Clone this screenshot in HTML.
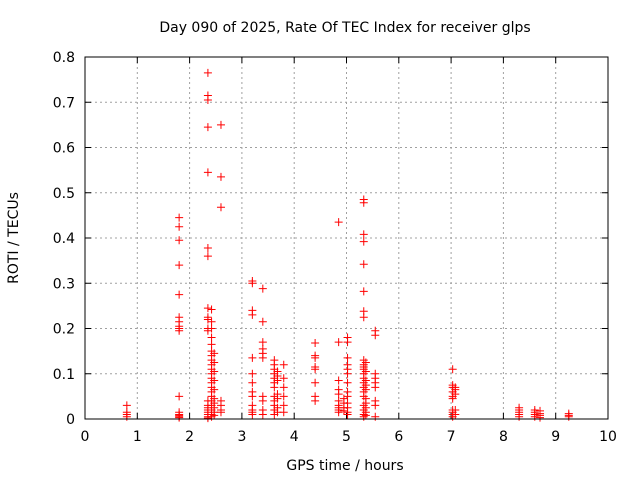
<!DOCTYPE html>
<html><head><meta charset="utf-8"><style>
body{margin:0;background:#fff;}
svg{display:block;font-family:"DejaVu Sans","Liberation Sans",sans-serif;}
</style></head><body>
<svg id="chart" width="640" height="480">
<rect width="640" height="480" fill="#fff"/>
<text x="345" y="32" text-anchor="middle" font-size="14">Day 090 of 2025, Rate Of TEC Index for receiver glps</text>
<text x="345" y="470" text-anchor="middle" font-size="14">GPS time / hours</text>
<text transform="translate(18,238) rotate(-90)" text-anchor="middle" font-size="14">ROTI / TECUs</text>
<g id="grid"></g><g id="ticks"></g><g id="marks"></g>
<rect x="85" y="57" width="523" height="362" fill="none" stroke="#000" stroke-width="1"/>
</svg>
<script>
const xTicks=[0,1,2,3,4,5,6,7,8,9,10];
const yTicks=[0,0.1,0.2,0.3,0.4,0.5,0.6,0.7,0.8];
const yTickLabels=["0","0.1","0.2","0.3","0.4","0.5","0.6","0.7","0.8"];
const clusterHours=[0.8,1.8,2.35,2.42,2.47,2.6,3.2,3.4,3.62,3.68,3.8,4.4,4.85,4.95,5.02,5.33,5.37,5.55,7.03,7.08,8.3,8.6,8.7,9.25];
const clusterValues=[
[0.03,0.015,0.01,0.005],
[0.445,0.425,0.395,0.34,0.275,0.225,0.215,0.205,0.2,0.195,0.05,0.015,0.01,0.008,0.005,0.003],
[0.765,0.715,0.705,0.645,0.545,0.378,0.36,0.245,0.225,0.22,0.2,0.195,0.04,0.03,0.025,0.02,0.015,0.01,0.005,0.002],
[0.242,0.215,0.2,0.18,0.165,0.15,0.14,0.13,0.12,0.11,0.1,0.09,0.08,0.07,0.06,0.05,0.04,0.03,0.02,0.01,0.005],
[0.145,0.125,0.105,0.085,0.065,0.045,0.035,0.025,0.015,0.008],
[0.65,0.535,0.468,0.04,0.03,0.02,0.015],
[0.305,0.3,0.24,0.23,0.135,0.1,0.08,0.06,0.05,0.03,0.02,0.015,0.01],
[0.288,0.215,0.17,0.155,0.145,0.135,0.05,0.04,0.02,0.01],
[0.13,0.12,0.11,0.1,0.09,0.08,0.07,0.05,0.04,0.03,0.02,0.01],
[0.105,0.095,0.085,0.055,0.045,0.025,0.015],
[0.12,0.09,0.07,0.05,0.03,0.015],
[0.168,0.14,0.135,0.115,0.11,0.08,0.05,0.04],
[0.435,0.17,0.085,0.065,0.055,0.04,0.03,0.025,0.02,0.015],
[0.045,0.035,0.025,0.018],
[0.18,0.17,0.135,0.12,0.11,0.1,0.08,0.06,0.05,0.035,0.025,0.015,0.01],
[0.485,0.478,0.408,0.392,0.342,0.282,0.238,0.225,0.13,0.12,0.115,0.11,0.1,0.09,0.08,0.07,0.06,0.05,0.03,0.02,0.01,0.005],
[0.125,0.105,0.085,0.075,0.065,0.045,0.035,0.025,0.015,0.008],
[0.195,0.185,0.1,0.09,0.08,0.07,0.04,0.03,0.005],
[0.11,0.075,0.07,0.06,0.05,0.045,0.02,0.015,0.01,0.005],
[0.07,0.065,0.055,0.02,0.01],
[0.025,0.02,0.015,0.01,0.005],
[0.02,0.015,0.01,0.005],
[0.018,0.012,0.008,0.003],
[0.012,0.008,0.005]
];
const X0=85,X1=608,Y0=419,Y1=57;
function xs(h){return X0+(h-0)/(10-0)*(X1-X0);}
function ys(v){return Y0-(v-0)/(0.8-0)*(Y0-Y1);}
const NS="http://www.w3.org/2000/svg";
const grid=document.getElementById('grid'),ticks=document.getElementById('ticks'),marks=document.getElementById('marks');
function mk(tag,attrs,parent){const e=document.createElementNS(NS,tag);for(const k in attrs)e.setAttribute(k,attrs[k]);parent.appendChild(e);return e;}
xTicks.forEach((t,i)=>{
  const x=xs(t);
  if(i>0&&i<xTicks.length-1){const g=mk('line',{x1:x,x2:x,y1:Y1,y2:Y0,stroke:'#a0a0a0','stroke-dasharray':'2,3'},grid);
  
  }
  mk('line',{x1:x,x2:x,y1:Y0,y2:Y0-6,stroke:'#000'},ticks);
  mk('line',{x1:x,x2:x,y1:Y1,y2:Y1+6,stroke:'#000'},ticks);
  const l=mk('text',{x:x,y:Y0+22,'text-anchor':'middle','font-size':'14'},ticks);
  l.textContent=String(t);
  
  
});
yTicks.forEach((t,i)=>{
  const y=ys(t);
  if(i>0&&i<yTicks.length-1){const g=mk('line',{x1:X0,x2:X1,y1:y,y2:y,stroke:'#a0a0a0','stroke-dasharray':'2,3'},grid);
  
  }
  mk('line',{x1:X0,x2:X0+6,y1:y,y2:y,stroke:'#000'},ticks);
  mk('line',{x1:X1,x2:X1-6,y1:y,y2:y,stroke:'#000'},ticks);
  const l=mk('text',{x:X0-10,y:y+5,'text-anchor':'end','font-size':'14'},ticks);
  l.textContent=yTickLabels[i];
  
  
});
clusterHours.forEach((h,ci)=>{
  clusterValues[ci].forEach(v=>{
    const x=xs(h),y=ys(v);
    const p=mk('path',{d:`M${x-4},${y}H${x+4}M${x},${y-4}V${y+4}`,stroke:'#ff0000','stroke-width':'1',fill:'none'},marks);
    
    
  });
});
</script>
</body></html>
